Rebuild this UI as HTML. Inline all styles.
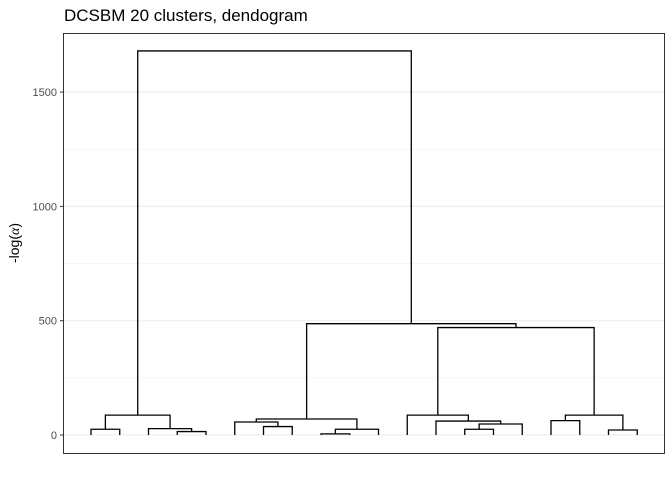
<!DOCTYPE html>
<html><head><meta charset="utf-8"><style>
body{margin:0;background:#fff;font-family:"Liberation Sans",sans-serif}
</style></head><body>
<svg width="672" height="480" id="c" font-family="Liberation Sans, sans-serif">
<text x="64" y="21" font-size="17" fill="#000">DCSBM 20 clusters, dendogram</text>
<text transform="translate(19,243) rotate(-90)" font-size="14" text-anchor="middle">-log(<tspan font-family="Liberation Serif, serif" font-style="italic">α</tspan>)</text>
<g id="grid"></g><g id="axis"></g><g id="tree"></g>
<rect x="63.5" y="33.5" width="601" height="420" fill="none" stroke="#333" stroke-width="1"/>
</svg>
<script>
const yTicks=[0,500,1000,1500];
const yMinor=[250,750,1250];
const nLeaves=20;
// merges: [leftNode,rightNode,height]; leaves 0..19, merged nodes 20+
const merges=[
[0,1,25],[3,4,15],[2,21,28],[20,22,87],
[6,7,37],[5,24,57],[8,9,5],[26,10,25],[25,27,70],
[13,14,25],[29,15,48],[12,30,61],[11,31,87],
[16,17,63],[18,19,22],[33,34,87],
[32,35,470],[28,36,487],[23,37,1680]];
const X=i=>91+i*28.75;
const Y=v=>435-v*0.2286;
const ns="http://www.w3.org/2000/svg";
function mk(t,a,p){const e=document.createElementNS(ns,t);for(const k in a)e.setAttribute(k,a[k]);document.getElementById(p).appendChild(e);return e;}
yMinor.forEach(v=>{const l=mk('line',{x1:64,x2:664,y1:Y(v),y2:Y(v),stroke:'#f0f0f0','stroke-width':0.6},'grid');

});
yTicks.forEach(v=>{const l=mk('line',{x1:64,x2:664,y1:Y(v),y2:Y(v),stroke:'#ebebeb','stroke-width':1},'grid');


const t=mk('line',{x1:60,x2:63,y1:Y(v),y2:Y(v),stroke:'#333'},'axis');


const tx=mk('text',{x:57,y:Y(v)+4,'font-size':11,'text-anchor':'end',fill:'#4d4d4d'},'axis');tx.textContent=v;

});
const pos=[],ht=[];
for(let i=0;i<nLeaves;i++){pos[i]=X(i);ht[i]=0;}
merges.forEach((m,k)=>{const a=m[0],b=m[1],h=m[2];
const p=mk('path',{d:`M${pos[a]},${Y(ht[a])}V${Y(h)}H${pos[b]}V${Y(ht[b])}`,fill:'none',stroke:'#000','stroke-width':1.3},'tree');


pos[nLeaves+k]=(pos[a]+pos[b])/2;ht[nLeaves+k]=h;});
</script>
</body></html>
